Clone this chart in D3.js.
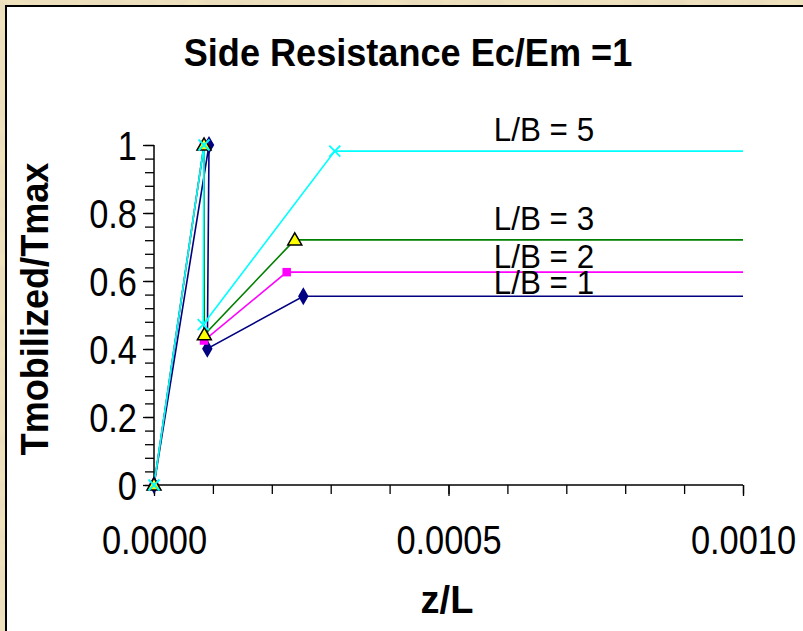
<!DOCTYPE html>
<html>
<head>
<meta charset="utf-8">
<script src="https://cdn.jsdelivr.net/npm/d3@7"></script>
<style>
  html, body { margin: 0; padding: 0; background: #e8d7ab; overflow: hidden; }
  svg { display: block; }
  text { font-family: "Liberation Sans", Arial, sans-serif; fill: #000; }
</style>
</head>
<body>
<svg id="chart" width="803" height="631"></svg>
<script>
// Side resistance mobilisation curves, Ec/Em = 1
const seriesNames = ["L/B = 1", "L/B = 2", "L/B = 3", "L/B = 5"];

// z/L values of each series
const zL_LB1 = [0, 0.0000934, 0.0000905, 0.0002535, 0.0010];
const zL_LB2 = [0, 0.0000849, 0.0000849, 0.0002253, 0.0010];
const zL_LB3 = [0, 0.0000849, 0.0000855, 0.0002390, 0.0010];
const zL_LB5 = [0, 0.0000849, 0.0000835, 0.0003070, 0.0010];

// Tmobilized/Tmax values of each series
const t_LB1 = [0, 1, 0.401, 0.555, 0.555];
const t_LB2 = [0, 1, 0.425, 0.626, 0.626];
const t_LB3 = [0, 1, 0.442, 0.721, 0.721];
const t_LB5 = [0, 1, 0.472, 0.982, 0.982];

// Axis ticks
const xMajorTicks = [0, 0.0005, 0.0010];
const xMinorTicks = [0, 0.0001, 0.0002, 0.0003, 0.0004, 0.0005, 0.0006, 0.0007, 0.0008, 0.0009, 0.0010];
const yMajorTicks = [0, 0.2, 0.4, 0.6, 0.8, 1];
const yMinorTicks = [0, 0.04, 0.08, 0.12, 0.16, 0.2, 0.24, 0.28, 0.32, 0.36, 0.4, 0.44, 0.48, 0.52,
                     0.56, 0.6, 0.64, 0.68, 0.72, 0.76, 0.8, 0.84, 0.88, 0.92, 0.96, 1];

// Where each curve's name is written (data units)
const labelZ = [0.000577, 0.000577, 0.000577, 0.000577];
const labelT = [0.561, 0.638, 0.750, 1.012];

const series = [
  { name: seriesNames[0], z: zL_LB1, t: t_LB1, line: "#000080", marker: "diamond" },
  { name: seriesNames[1], z: zL_LB2, t: t_LB2, line: "#ff00ff", marker: "square" },
  { name: seriesNames[2], z: zL_LB3, t: t_LB3, line: "#008000", marker: "triangle" },
  { name: seriesNames[3], z: zL_LB5, t: t_LB5, line: "#00ffff", marker: "x" }
];

const svg = d3.select("#chart");
const W = 803, H = 631;

// mottled parchment backdrop
const defs = svg.append("defs");
const f = defs.append("filter").attr("id", "parchment")
  .attr("x", 0).attr("y", 0).attr("width", "100%").attr("height", "100%");
f.append("feTurbulence").attr("type", "fractalNoise").attr("baseFrequency", "0.035 0.06")
  .attr("numOctaves", 4).attr("seed", 7).attr("result", "noise");
f.append("feColorMatrix").attr("in", "noise").attr("type", "matrix")
  .attr("values", "0 0 0 0 0.80  0 0 0 0 0.70  0 0 0 0 0.50  0 0 0 -1.4 0.95").attr("result", "tint");
f.append("feComposite").attr("in", "tint").attr("in2", "SourceGraphic").attr("operator", "over");
svg.append("rect").attr("width", W).attr("height", H).attr("fill", "#efe2bd").attr("filter", "url(#parchment)");

// chart panel
svg.append("rect").attr("x", 6).attr("y", 6).attr("width", W + 10).attr("height", H + 10)
  .attr("fill", "#fff").attr("stroke", "#000").attr("stroke-width", 2);

const x = d3.scaleLinear().domain([0, 0.0010]).range([154, 743]);
const y = d3.scaleLinear().domain([0, 1]).range([485, 145]);

// squeeze a text run horizontally to the given fraction of its natural width
function squeeze(sel, k) {
  sel.each(function () {
    const len = this.getComputedTextLength();
    d3.select(this).attr("textLength", len * k).attr("lengthAdjust", "spacingAndGlyphs");
  });
}

// title
svg.append("text").attr("x", 408).attr("y", 66).attr("text-anchor", "middle")
  .style("font-size", "38px").style("font-weight", "bold")
  .text("Side Resistance Ec/Em =1").call(squeeze, 0.95);

// y axis: minor and major ticks, labels
const yMinor = svg.append("g").attr("transform", `translate(${x(0)},0)`)
  .call(d3.axisLeft(y).tickValues(yMinorTicks).tickSize(9).tickFormat(""));
const yMajor = svg.append("g").attr("transform", `translate(${x(0)},0)`)
  .call(d3.axisLeft(y).tickValues(yMajorTicks).tickSize(11).tickPadding(6).tickFormat(d3.format("~g")));
yMajor.selectAll("text").style("font-size", "40px").attr("dy", "0.36em").call(squeeze, 0.86);

// x axis: minor and major ticks, labels
const xMinor = svg.append("g").attr("transform", `translate(0,${y(0)})`)
  .call(d3.axisBottom(x).tickValues(xMinorTicks).tickSize(9).tickFormat(""));
const xMajor = svg.append("g").attr("transform", `translate(0,${y(0)})`)
  .call(d3.axisBottom(x).tickValues(xMajorTicks).tickSize(11).tickPadding(30).tickFormat(d3.format(".4f")));
xMajor.selectAll("text").style("font-size", "40px").attr("dy", "0.71em").call(squeeze, 0.86);

[yMinor, yMajor, xMinor, xMajor].forEach(g => {
  g.selectAll(".domain").attr("stroke", "#000").attr("stroke-width", 1.5);
  g.selectAll(".tick line").attr("stroke", "#000").attr("stroke-width", 1.3);
});
yMinor.select(".domain").remove();
xMinor.select(".domain").remove();
// plain axis lines without end caps
yMajor.select(".domain").attr("d", `M0,${y(0)}V${y(1)}`);
xMajor.select(".domain").attr("d", `M${x(0)},0H${x(0.0010)}`);

// axis titles
svg.append("text").attr("x", 447).attr("y", 613).attr("text-anchor", "middle")
  .style("font-size", "38px").style("font-weight", "bold").text("z/L");
svg.append("text").attr("transform", "translate(48,309) rotate(-90)").attr("text-anchor", "middle")
  .style("font-size", "38px").style("font-weight", "bold")
  .text("Tmobilized/Tmax").call(squeeze, 0.95);

// curves
const line = d3.line().x(d => x(d[0])).y(d => y(d[1]));
const plot = svg.append("g");
series.forEach(s => {
  const pts = s.z.map((z, i) => [z, s.t[i]]);
  plot.append("path").datum(pts).attr("d", line)
    .attr("fill", "none").attr("stroke", s.line).attr("stroke-width", 1.6);
});

// markers (the plateau end point carries none)
const sym = {
  diamond: d3.symbol().type(d3.symbolDiamond).size(95)(),
  square: d3.symbol().type(d3.symbolSquare).size(72)(),
  triangle: d3.symbol().type(d3.symbolTriangle).size(85)()
};
series.forEach(s => {
  const pts = s.z.map((z, i) => [z, s.t[i]]).slice(0, -1);
  const g = plot.append("g");
  pts.forEach(p => {
    const tx = `translate(${x(p[0])},${y(p[1])})`;
    if (s.marker === "diamond") {
      g.append("path").attr("d", sym.diamond).attr("transform", tx).attr("fill", "#000080");
    } else if (s.marker === "square") {
      g.append("path").attr("d", sym.square).attr("transform", tx).attr("fill", "#ff00ff");
    } else if (s.marker === "triangle") {
      g.append("path").attr("d", sym.triangle).attr("transform", tx + " translate(0,1)")
        .attr("fill", "#ffff00").attr("stroke", "#000").attr("stroke-width", 1.5);
    } else {
      g.append("path").attr("d", "M-5.5,-5.5L5.5,5.5M-5.5,5.5L5.5,-5.5").attr("transform", tx)
        .attr("fill", "none").attr("stroke", "#00ffff").attr("stroke-width", 1.8);
    }
  });
});

// curve names
svg.append("g").selectAll("text").data(series).join("text")
  .attr("x", (d, i) => x(labelZ[i])).attr("y", (d, i) => y(labelT[i]))
  .style("font-size", "33px").text(d => d.name).call(squeeze, 0.95);
</script>
</body>
</html>
